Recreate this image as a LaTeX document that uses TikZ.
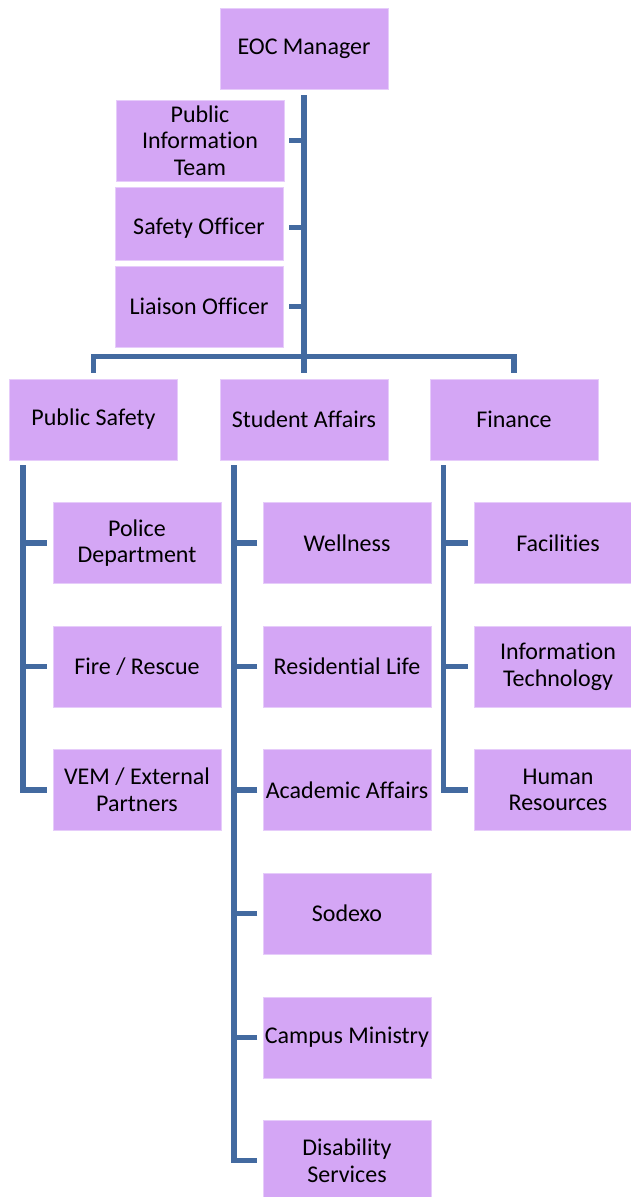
\documentclass[tikz,border=0pt]{standalone}
\usepackage{fontspec}
\setmainfont{Carlito}[Ligatures={NoCommon,NoRare,NoContextual}, RawFeature={-ccmp}]

\definecolor{boxfill}{RGB}{212,166,245}
\definecolor{boxedge}{RGB}{230,204,250}
\definecolor{linkblue}{RGB}{67,106,160}

\tikzset{
	box/.style={draw=boxedge, line width=0.6pt, fill=boxfill, minimum width=126pt, minimum height=60.75pt, inner sep=1pt, align=center, font=\fontsize{18}{20}\selectfont},
	link/.style={draw=linkblue, line width=4pt},
}

\begin{document}
\begin{tikzpicture}[x=0.75pt,y=-0.75pt]
		\useasboundingbox (0,0) rectangle (631,1197);
		\clip (0,0) rectangle (631,1197);
		% top of the chart
		\node [box] (eoc) at (304,48.5) {EOC Manager};
		\node [box] (pit) at (200,140.5) {Public\\Informa\kern0pt tion\\Team};
		\node [box, minimum height=54.75pt] (safety) at (199,223.5) {\raisebox{-3.2pt}[\height][\depth]{Safety Officer}};
		\node [box] (liaison) at (199,306.5) {Liaison Officer};
		% sections
		\node [box] (ps) at (93.5,419.5) {Public Safety};
		\node [box] (sa) at (304,419.5) {Student Affairs};
		\node [box] (fin) at (514,419.5) {Finance};
		% public safety
		\node [box] (pd) at (137,543) {Police\\Department};
		\node [box] (fire) at (137,666.5) {Fire / Rescue};
		\node [box] (vem) at (137,790) {VEM / External\\Partners};
		% student affairs
		\node [box] (well) at (347,543) {Wellness};
		\node [box] (res) at (347,666.5) {Residential Life};
		\node [box] (acad) at (347,790) {Academic Affairs};
		\node [box] (sodexo) at (347,913.5) {Sodexo};
		\node [box] (ministry) at (347,1037.5) {Campus Ministry};
		\node [box] (dis) at (347,1160.5) {Disability\\Services};
		% finance
		\node [box] (fac) at (558,543) {Facili\kern0pt ties};
		\node [box] (it) at (558,666.5) {Informa\kern0pt tion\\Technology};
		\node [box] (hr) at (558,790) {Human\\Resources};

		% connectors
		\draw [link] ([yshift=-4.5pt]eoc.south) -- ([yshift=4.5pt]sa.north);
		\draw [link] ([xshift=3.75pt]pit.east) -- (pit.east -| eoc.south);
		\draw [link] ([xshift=4.5pt,yshift=-3pt]safety.east) -- ([yshift=-3pt]safety.east -| eoc.south);
		\draw [link] ([xshift=4.5pt]liaison.east) -- (liaison.east -| eoc.south);
		\draw [link] ([yshift=4.5pt]ps.north) |- ([yshift=16.5pt]fin.north) -- ([yshift=4.5pt]fin.north);

		\coordinate (psbus) at ([xshift=10.5pt,yshift=-3.75pt]ps.south west);
		\draw [link] (psbus) |- ([xshift=-4.5pt]vem.west);
		\draw [link] ([xshift=-4.5pt]pd.west) -- (pd.west -| psbus);
		\draw [link] ([xshift=-4.5pt]fire.west) -- (fire.west -| psbus);

		\coordinate (sabus) at ([xshift=10.8pt,yshift=-3.75pt]sa.south west);
		\draw [link] (sabus) |- ([xshift=-4pt]dis.west);
		\draw [link] ([xshift=-4pt]well.west) -- (well.west -| sabus);
		\draw [link] ([xshift=-4pt]res.west) -- (res.west -| sabus);
		\draw [link] ([xshift=-4pt]acad.west) -- (acad.west -| sabus);
		\draw [link] ([xshift=-4pt]sodexo.west) -- (sodexo.west -| sabus);
		\draw [link] ([xshift=-4pt]ministry.west) -- (ministry.west -| sabus);

		\coordinate (finbus) at ([xshift=10.5pt,yshift=-3.75pt]fin.south west);
		\draw [link] (finbus) |- ([xshift=-4.5pt]hr.west);
		\draw [link] ([xshift=-4.5pt]fac.west) -- (fac.west -| finbus);
		\draw [link] ([xshift=-4.5pt]it.west) -- (it.west -| finbus);
\end{tikzpicture}
\end{document}
